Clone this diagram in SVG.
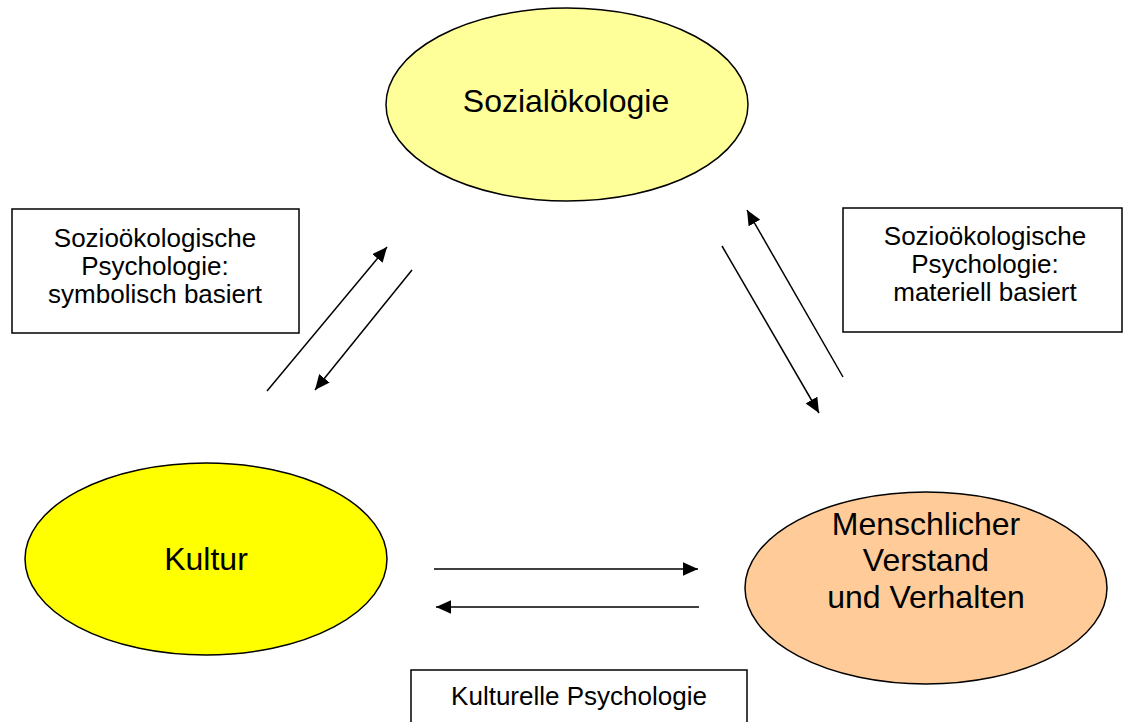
<svg xmlns="http://www.w3.org/2000/svg" width="1123" height="722" viewBox="0 0 1123 722">
<style>
.node{stroke:#000;stroke-width:1.5}
.box{fill:#fff;stroke:#000;stroke-width:1.5}
.big{font-family:"Liberation Sans",Arial,sans-serif;font-size:32px;fill:#000;text-anchor:middle}
.small{font-family:"Liberation Sans",Arial,sans-serif;font-size:26px;fill:#000;text-anchor:middle}
.conn{stroke:#000;stroke-width:1.5;fill:none;marker-end:url(#ah)}
</style>
<defs>
<marker id="ah" markerWidth="10" markerHeight="9" refX="10" refY="4.5" orient="auto" markerUnits="strokeWidth">
<path d="M0,0 L10,4.5 L0,9 Z" fill="#000"/>
</marker>
</defs>
<rect width="1123" height="722" fill="#fff"/>
<g id="sozialoekologie">
<ellipse class="node" cx="567" cy="104.5" rx="181" ry="96.5" fill="#FFFF99"/>
<text class="big" x="566" y="112">Sozialökologie</text>
</g>
<g id="kultur">
<ellipse class="node" cx="206" cy="559" rx="181" ry="96" fill="#FFFF00"/>
<text class="big" x="206" y="570">Kultur</text>
</g>
<g id="verhalten">
<ellipse class="node" cx="926" cy="588" rx="181" ry="96" fill="#FFCC99"/>
<text class="big" x="926" y="535">Menschlicher</text>
<text class="big" x="926" y="571">Verstand</text>
<text class="big" x="926" y="608">und Verhalten</text>
</g>
<g id="label-symbolisch">
<rect class="box" x="12" y="209" width="287" height="124"/>
<text class="small" x="155" y="247">Sozioökologische</text>
<text class="small" x="155" y="275">Psychologie:</text>
<text class="small" x="155" y="303">symbolisch basiert</text>
</g>
<g id="label-materiell">
<rect class="box" x="843" y="208" width="279" height="124"/>
<text class="small" x="985" y="245">Sozioökologische</text>
<text class="small" x="985" y="273">Psychologie:</text>
<text class="small" x="985" y="301">materiell basiert</text>
</g>
<g id="label-kulturelle">
<rect class="box" x="411" y="670" width="336" height="60"/>
<text class="small" x="579" y="705">Kulturelle Psychologie</text>
</g>
<g id="connectors">
<line class="conn" x1="267" y1="391" x2="387" y2="247"/>
<line class="conn" x1="412" y1="270" x2="315" y2="390"/>
<line class="conn" x1="722" y1="246" x2="819" y2="413"/>
<line class="conn" x1="843" y1="377" x2="747" y2="210"/>
<line class="conn" x1="434" y1="569" x2="698" y2="569"/>
<line class="conn" x1="699" y1="607" x2="436" y2="607"/>
</g>
</svg>
